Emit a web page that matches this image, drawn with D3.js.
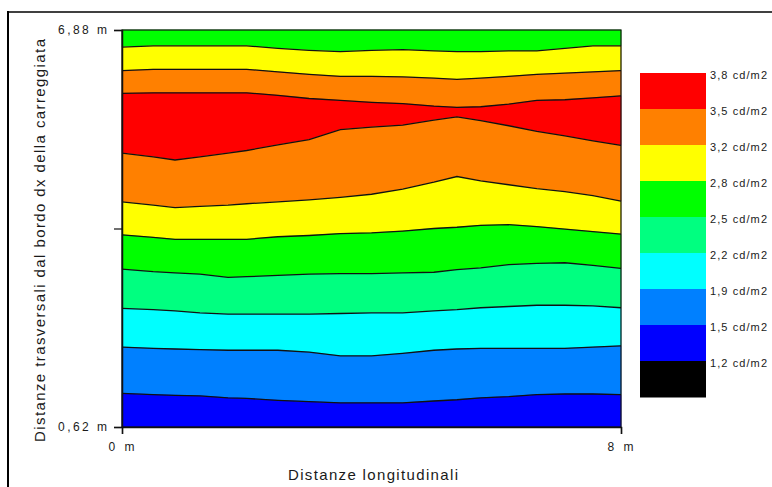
<!DOCTYPE html>
<html><head><meta charset="utf-8">
<script src="https://cdn.jsdelivr.net/npm/d3@7"></script>
<style>
body{margin:0;background:#fff}
svg{display:block}
text{font-family:Arial,"Liberation Sans",sans-serif;fill:#1a1a1a}
</style>
</head><body>
<svg id="chart" width="772" height="487"></svg>
<script>
// ---- data (metres along / across the carriageway) ----
const xPositions = [0, 0.5, 0.85, 1.25, 1.7, 2, 2.5, 3, 3.5, 4, 4.5, 5, 5.37, 5.75, 6.2, 6.65, 7.1, 7.55, 8];
// contour boundaries (transverse distance, m) from top to bottom
const c28Upper = [6.61, 6.63, 6.63, 6.63, 6.63, 6.63, 6.59, 6.56, 6.54, 6.56, 6.57, 6.55, 6.54, 6.54, 6.55, 6.55, 6.59, 6.63, 6.63];
const c32Upper = [6.24, 6.26, 6.26, 6.26, 6.26, 6.26, 6.22, 6.18, 6.15, 6.15, 6.14, 6.12, 6.10, 6.12, 6.15, 6.18, 6.20, 6.22, 6.24];
const c35Upper = [5.88, 5.89, 5.89, 5.89, 5.89, 5.89, 5.85, 5.80, 5.77, 5.74, 5.72, 5.68, 5.66, 5.67, 5.71, 5.77, 5.78, 5.81, 5.84];
const c35Lower = [4.94, 4.88, 4.83, 4.88, 4.94, 4.98, 5.07, 5.15, 5.31, 5.35, 5.38, 5.46, 5.51, 5.45, 5.37, 5.28, 5.21, 5.13, 5.06];
const c32Lower = [4.17, 4.12, 4.08, 4.10, 4.12, 4.14, 4.17, 4.20, 4.24, 4.29, 4.37, 4.48, 4.57, 4.50, 4.44, 4.38, 4.33, 4.27, 4.18];
const c28Lower = [3.65, 3.61, 3.58, 3.58, 3.58, 3.58, 3.62, 3.64, 3.67, 3.68, 3.71, 3.75, 3.77, 3.80, 3.81, 3.78, 3.74, 3.70, 3.66];
const c25 = [3.11, 3.07, 3.05, 3.03, 2.98, 2.99, 3.01, 3.03, 3.04, 3.04, 3.05, 3.06, 3.10, 3.13, 3.18, 3.20, 3.21, 3.17, 3.12];
const c22 = [2.49, 2.47, 2.45, 2.42, 2.40, 2.40, 2.40, 2.40, 2.41, 2.42, 2.42, 2.45, 2.47, 2.50, 2.52, 2.54, 2.54, 2.53, 2.50];
const c19 = [1.88, 1.86, 1.85, 1.84, 1.83, 1.83, 1.83, 1.80, 1.74, 1.74, 1.78, 1.83, 1.85, 1.86, 1.86, 1.86, 1.86, 1.88, 1.90];
const c15 = [1.15, 1.13, 1.12, 1.11, 1.08, 1.07, 1.04, 1.02, 1.00, 1.00, 1.00, 1.03, 1.05, 1.08, 1.10, 1.13, 1.14, 1.14, 1.13];

const yDomain = [0.62, 6.88];
const xDomain = [0, 8];
const yTickValues = [6.88, 3.75, 0.62];
const yTickLabels = ["6,88 m", "", "0,62 m"];
const xTickValues = [0, 8];
const xTickLabels = ["0 m", "8 m"];

const legendLabels = ["3,8 cd/m2","3,5 cd/m2","3,2 cd/m2","2,8 cd/m2","2,5 cd/m2","2,2 cd/m2","1,9 cd/m2","1,5 cd/m2","1,2 cd/m2"];
const legendColors = ["#FF0000","#FF8000","#FFFF00","#00FF00","#00FF80","#00FFFF","#0080FF","#0000FF","#000000"];

const xTitle = "Distanze longitudinali";
const yTitle = "Distanze trasversali dal bordo dx della carreggiata";

// ---- build ----
const svg = d3.select("#chart");
const plot = {left:122, right:621, top:30, bottom:427};
const x = d3.scaleLinear().domain(xDomain).range([plot.left, plot.right]);
const y = d3.scaleLinear().domain(yDomain).range([plot.bottom, plot.top]);

const topEdge = xPositions.map(() => yDomain[1]);
const bottomEdge = xPositions.map(() => yDomain[0]);
const boundaries = [topEdge, c28Upper, c32Upper, c35Upper, c35Lower, c32Lower, c28Lower, c25, c22, c19, c15, bottomEdge];
const bandColors = ["#00FF00","#FFFF00","#FF8000","#FF0000","#FF8000","#FFFF00","#00FF00","#00FF80","#00FFFF","#0080FF","#0000FF"];

// outer frame
svg.append("line").attr("x1",7).attr("x2",772).attr("y1",12).attr("y2",12).attr("stroke","#000").attr("stroke-width",1.6);
svg.append("line").attr("x1",8).attr("x2",8).attr("y1",11).attr("y2",487).attr("stroke","#000").attr("stroke-width",2);

const area = d3.area()
  .x((d,i) => x(xPositions[i]))
  .y0(d => y(d[0]))
  .y1(d => y(d[1]));

const g = svg.append("g");
bandColors.forEach((col, k) => {
  const upper = boundaries[k], lower = boundaries[k+1];
  const pts = xPositions.map((_, i) => [lower[i], upper[i]]);
  g.append("path").attr("d", area(pts)).attr("fill", col).attr("stroke", col).attr("stroke-width", 0.6);
});

const line = d3.line().x((d,i) => x(xPositions[i])).y(d => y(d));
boundaries.slice(1, -1).forEach(b => {
  g.append("path").attr("d", line(b)).attr("fill","none").attr("stroke","#111").attr("stroke-width",1.3);
});

// plot border
svg.append("rect").attr("x",plot.left).attr("y",plot.top)
  .attr("width",plot.right-plot.left).attr("height",plot.bottom-plot.top)
  .attr("fill","none").attr("stroke","#111").attr("stroke-width",1.2);

// axes
const yAxis = d3.axisLeft(y).tickValues(yTickValues)
  .tickFormat((d,i) => yTickLabels[i]).tickSize(8).tickPadding(7);
const ya = svg.append("g").attr("transform",`translate(${plot.left},0)`).call(yAxis);
ya.select(".domain").attr("stroke","#111").attr("stroke-width",1.5);
ya.selectAll(".tick line").attr("stroke","#111").attr("stroke-width",1.2);
ya.selectAll(".tick text").attr("font-size",12).attr("fill","#1a1a1a")
  .style("font-family","Arial, 'Liberation Sans', sans-serif")
  .each(function(){ if (this.textContent) d3.select(this).attr("textLength",49).attr("lengthAdjust","spacing"); });

const xAxis = d3.axisBottom(x).tickValues(xTickValues)
  .tickFormat((d,i) => xTickLabels[i]).tickSize(7).tickPadding(8);
const xa = svg.append("g").attr("transform",`translate(0,${plot.bottom})`).call(xAxis);
xa.select(".domain").attr("stroke","#111").attr("stroke-width",1.5);
xa.selectAll(".tick line").attr("stroke","#111").attr("stroke-width",1.2);
xa.selectAll(".tick text").attr("font-size",12).attr("fill","#1a1a1a")
  .style("font-family","Arial, 'Liberation Sans', sans-serif")
  .attr("dx",-1).attr("textLength",26).attr("lengthAdjust","spacing");

// axis titles
svg.append("text").attr("x",373).attr("y",480).attr("text-anchor","middle")
  .attr("font-size",15).attr("textLength",170).attr("lengthAdjust","spacing").text(xTitle);
svg.append("text").attr("transform","translate(45,240.5) rotate(-90)").attr("text-anchor","middle")
  .attr("font-size",15).attr("textLength",403).attr("lengthAdjust","spacing").text(yTitle);

// legend
const lg = d3.scaleBand().domain(legendLabels).range([73, 397]).paddingInner(0);
svg.append("g").selectAll("rect").data(legendLabels).join("rect")
  .attr("x",640).attr("width",66)
  .attr("y", d => lg(d)).attr("height", lg.bandwidth()+0.5)
  .attr("fill", (d,i) => legendColors[i]);
svg.append("g").selectAll("text").data(legendLabels).join("text")
  .attr("x",710).attr("y", d => lg(d) + 6)
  .attr("font-size",11).attr("textLength",57).attr("lengthAdjust","spacing")
  .text(d => d);
</script>
</body></html>
